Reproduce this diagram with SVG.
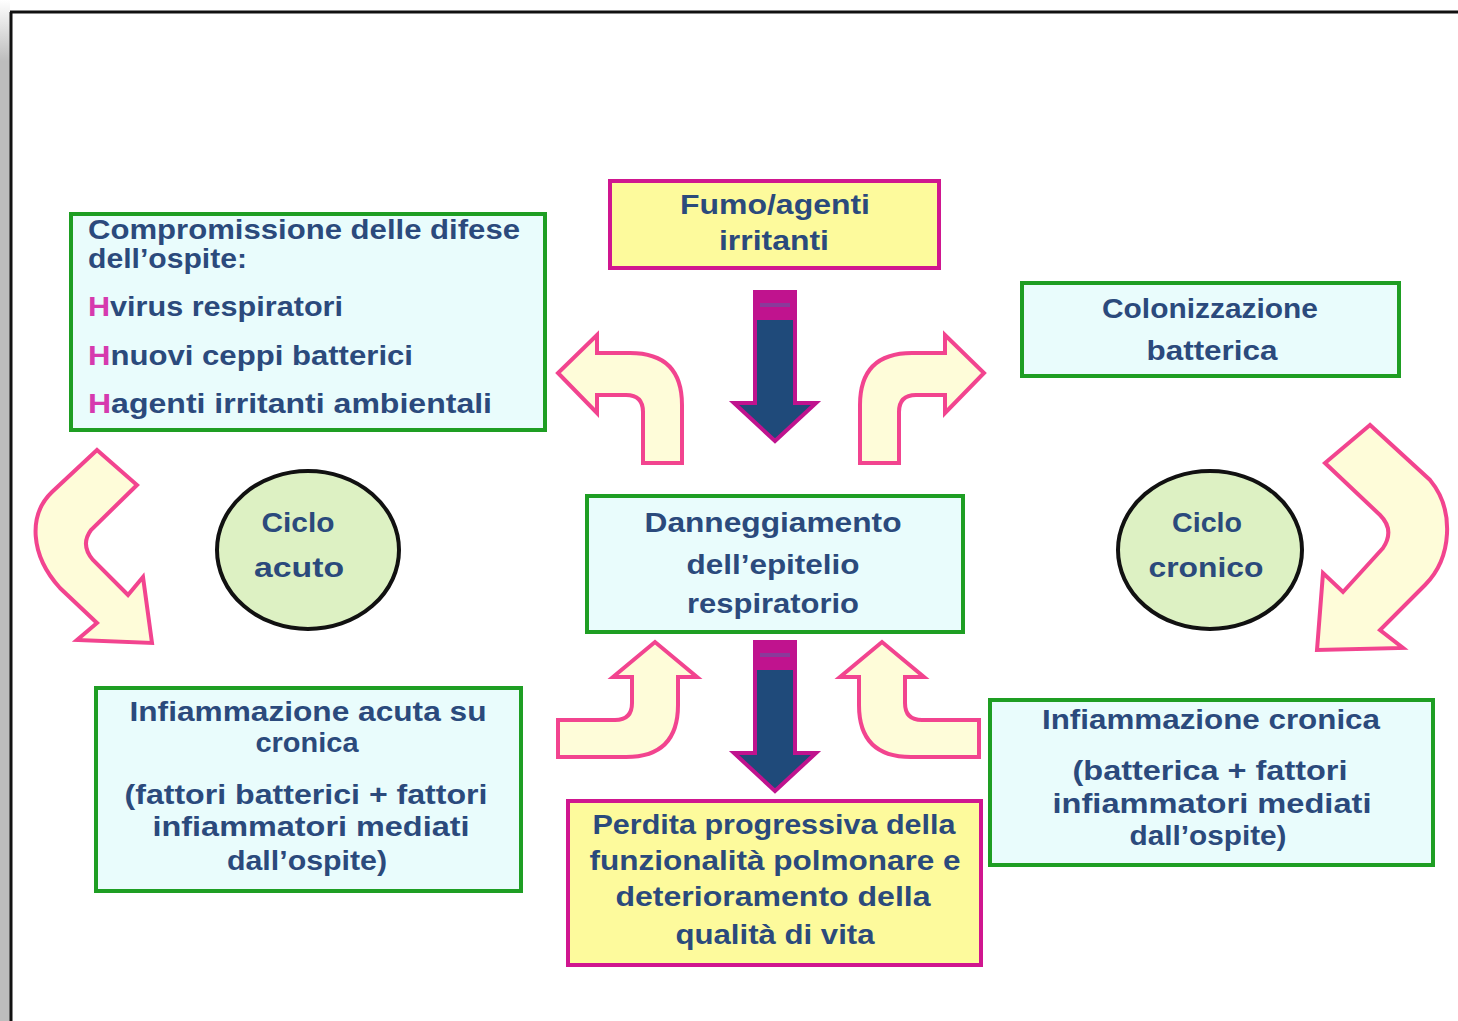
<svg xmlns="http://www.w3.org/2000/svg" width="1458" height="1021" viewBox="0 0 1458 1021">
<defs>
<linearGradient id="gstrip" x1="0" y1="0" x2="0" y2="1">
<stop offset="0" stop-color="#ffffff"/>
<stop offset="0.06" stop-color="#bdbdbd"/>
<stop offset="1" stop-color="#bdbdbd"/>
</linearGradient>
<style>
.t{font-family:"Liberation Sans",Arial,sans-serif;font-weight:bold;font-size:27px;fill:#2B4A7C}
.c{text-anchor:middle}
.gbox{fill:#E9FCFC;stroke:#1E9E23;stroke-width:4}
.ybox{fill:#FDFA9C;stroke:#D0168F;stroke-width:4}
.cyc{fill:#DDF1C3;stroke:#111;stroke-width:4}
.ca{fill:#FEFCD9;stroke:#F2448F;stroke-width:4;stroke-linejoin:miter}
.da{fill:#1F4A7A;stroke:#C0138E;stroke-width:4}
.cap{fill:#C0138E}
.bul{fill:#D63AAE}
</style>
</defs>
<rect x="0" y="0" width="1458" height="1021" fill="#ffffff"/>
<rect x="0" y="0" width="10" height="1021" fill="url(#gstrip)"/>
<line x1="11" y1="12" x2="11" y2="1021" stroke="#111" stroke-width="3"/>
<line x1="10" y1="12" x2="1458" y2="12" stroke="#111" stroke-width="3"/>

<g id="connectors">
<g id="arrow-top-down">
<path class="da" d="M755 292 L795 292 L795 403 L816 403 L775 441 L734 403 L755 403 Z"/>
<rect class="cap" x="755" y="292" width="40" height="28"/>
<rect x="760" y="303" width="30" height="4" fill="#8A3A9A"/>
</g>
<g id="arrow-bottom-down">
<path class="da" d="M755 642 L795 642 L795 753 L816 753 L775 791 L734 753 L755 753 Z"/>
<rect class="cap" x="755" y="642" width="40" height="28"/>
<rect x="760" y="653" width="30" height="4" fill="#8A3A9A"/>
</g>
<path id="arrow-up-left" class="ca" d="M643 463 L643 412 Q643 395 626 395 L597 395 L597 413 L558 373 L597 335 L597 353 L630 353 Q682 353 682 405 L682 463 Z"/>
<path id="arrow-up-right" class="ca" transform="translate(1542,0) scale(-1,1)" d="M643 463 L643 412 Q643 395 626 395 L597 395 L597 413 L558 373 L597 335 L597 353 L630 353 Q682 353 682 405 L682 463 Z"/>
<path id="arrow-low-left" class="ca" d="M558 720 L615 720 Q632 720 632 703 L632 677 L613 677 L655 642 L697 677 L678 677 L678 705 Q678 757 626 757 L558 757 Z"/>
<path id="arrow-low-right" class="ca" transform="translate(1537,0) scale(-1,1)" d="M558 720 L615 720 Q632 720 632 703 L632 677 L613 677 L655 642 L697 677 L678 677 L678 705 Q678 757 626 757 L558 757 Z"/>
<path id="arrow-side-left" class="ca" d="M97 450 L137 485 L91 530 Q80 545 93 560 L128 595 L143 577 L152 643 L77 640 L97 623 L60 588 C30 555 28 515 52 492 Z"/>
<path id="arrow-side-right" class="ca" d="M1370 425 L1325 463 L1380 515 Q1395 530 1383 548 L1343 592 L1323 573 L1317 650 L1403 648 L1380 630 L1425 585 C1452 558 1455 510 1430 480 Z"/>
</g>

<g id="node-compromissione">
<rect class="gbox" x="71" y="214" width="474" height="216"/>
<text class="t" x="88" y="239" font-size="26" textLength="432" lengthAdjust="spacingAndGlyphs">Compromissione delle difese</text>
<text class="t" x="88" y="268" font-size="26" textLength="159" lengthAdjust="spacingAndGlyphs">dell’ospite:</text>
<text class="t" x="88" y="316" textLength="255" lengthAdjust="spacingAndGlyphs"><tspan class="bul">H</tspan>virus respiratori</text>
<text class="t" x="88" y="365" textLength="325" lengthAdjust="spacingAndGlyphs"><tspan class="bul">H</tspan>nuovi ceppi batterici</text>
<text class="t" x="88" y="413" textLength="404" lengthAdjust="spacingAndGlyphs"><tspan class="bul">H</tspan>agenti irritanti ambientali</text>
</g>

<g id="node-fumo">
<rect class="ybox" x="610" y="181" width="329" height="87"/>
<text class="t c" x="775" y="214" textLength="190" lengthAdjust="spacingAndGlyphs">Fumo/agenti</text>
<text class="t c" x="774" y="250" textLength="110" lengthAdjust="spacingAndGlyphs">irritanti</text>
</g>

<g id="node-colonizzazione">
<rect class="gbox" x="1022" y="283" width="377" height="93"/>
<text class="t c" x="1210" y="318" textLength="216" lengthAdjust="spacingAndGlyphs">Colonizzazione</text>
<text class="t c" x="1212" y="360" textLength="131" lengthAdjust="spacingAndGlyphs">batterica</text>
</g>

<g id="node-danneggiamento">
<rect class="gbox" x="587" y="496" width="376" height="136"/>
<text class="t c" x="773" y="532" textLength="257" lengthAdjust="spacingAndGlyphs">Danneggiamento</text>
<text class="t c" x="773" y="574" textLength="173" lengthAdjust="spacingAndGlyphs">dell’epitelio</text>
<text class="t c" x="773" y="613" textLength="172" lengthAdjust="spacingAndGlyphs">respiratorio</text>
</g>

<g id="node-ciclo-acuto">
<ellipse class="cyc" cx="308" cy="550" rx="91" ry="79"/>
<text class="t c" x="298" y="532" textLength="73" lengthAdjust="spacingAndGlyphs">Ciclo</text>
<text class="t c" x="299" y="577" textLength="90" lengthAdjust="spacingAndGlyphs">acuto</text>
</g>

<g id="node-ciclo-cronico">
<ellipse class="cyc" cx="1210" cy="550" rx="92" ry="79"/>
<text class="t c" x="1207" y="532" textLength="70" lengthAdjust="spacingAndGlyphs">Ciclo</text>
<text class="t c" x="1206" y="577" textLength="115" lengthAdjust="spacingAndGlyphs">cronico</text>
</g>

<g id="node-inf-acuta">
<rect class="gbox" x="96" y="688" width="425" height="203"/>
<text class="t c" x="308" y="721" textLength="357" lengthAdjust="spacingAndGlyphs">Infiammazione acuta su</text>
<text class="t c" x="307" y="752" textLength="103" lengthAdjust="spacingAndGlyphs">cronica</text>
<text class="t c" x="306" y="804" textLength="363" lengthAdjust="spacingAndGlyphs">(fattori batterici + fattori</text>
<text class="t c" x="311" y="836" textLength="317" lengthAdjust="spacingAndGlyphs">infiammatori mediati</text>
<text class="t c" x="307" y="870" textLength="160" lengthAdjust="spacingAndGlyphs">dall’ospite)</text>
</g>

<g id="node-perdita">
<rect class="ybox" x="568" y="801" width="413" height="164"/>
<text class="t c" x="774" y="834" textLength="363" lengthAdjust="spacingAndGlyphs">Perdita progressiva della</text>
<text class="t c" x="775" y="870" textLength="371" lengthAdjust="spacingAndGlyphs">funzionalità polmonare e</text>
<text class="t c" x="773" y="906" textLength="315" lengthAdjust="spacingAndGlyphs">deterioramento della</text>
<text class="t c" x="775" y="944" textLength="199" lengthAdjust="spacingAndGlyphs">qualità di vita</text>
</g>

<g id="node-inf-cronica">
<rect class="gbox" x="990" y="700" width="443" height="165"/>
<text class="t c" x="1211" y="729" textLength="338" lengthAdjust="spacingAndGlyphs">Infiammazione cronica</text>
<text class="t c" x="1210" y="780" textLength="275" lengthAdjust="spacingAndGlyphs">(batterica + fattori</text>
<text class="t c" x="1212" y="813" textLength="319" lengthAdjust="spacingAndGlyphs">infiammatori mediati</text>
<text class="t c" x="1208" y="845" textLength="157" lengthAdjust="spacingAndGlyphs">dall’ospite)</text>
</g>
</svg>
